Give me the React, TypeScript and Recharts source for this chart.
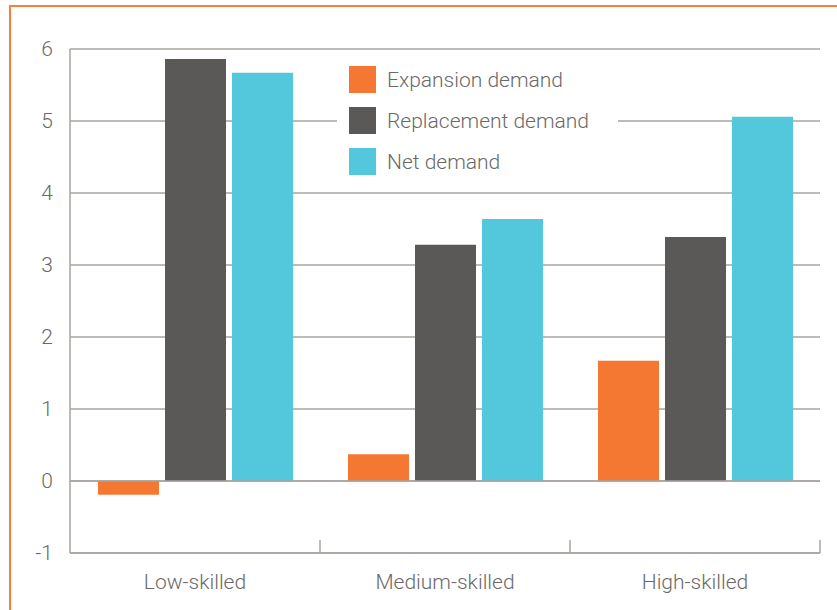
import React from 'react';
import {
  BarChart,
  Bar,
  XAxis,
  YAxis,
  CartesianGrid,
  ReferenceLine
} from 'recharts';

const categories = ['Low-skilled', 'Medium-skilled', 'High-skilled'];
const expansionDemand = [-0.19, 0.37, 1.67];
const replacementDemand = [5.86, 3.28, 3.39];
const netDemand = [5.67, 3.64, 5.06];
const yTicks = [-1, 0, 1, 2, 3, 4, 5, 6];

const seriesNames = ['Expansion demand', 'Replacement demand', 'Net demand'];
const seriesColors = ['#f47832', '#5b5957', '#53c8dc'];

const FONT = 'Roboto, "Liberation Sans", sans-serif';
const TEXT = '#6b6967';
const GRID = '#a8a39e';

const data = categories.map((name, i) => ({
  name,
  expansion: expansionDemand[i],
  replacement: replacementDemand[i],
  net: netDemand[i]
}));

const YTick = (props: any) => {
  const { y, payload } = props;
  return (
    <text x={53} y={y} dy={7} textAnchor="end" fill={TEXT} fontSize={21} fontWeight={300} fontFamily={FONT}>
      {payload.value}
    </text>
  );
};

const XTick = (props: any) => {
  const { x, y, payload } = props;
  return (
    <text x={x} y={y} dy={28} textAnchor="middle" fill={TEXT} fontSize={21} fontWeight={300} fontFamily={FONT}>
      {payload.value}
    </text>
  );
};

const LegendBox = () => (
  <div
    style={{
      position: 'absolute',
      left: 337,
      top: 59,
      width: 281,
      background: '#fff',
      padding: '0 0 0 12px',
      boxSizing: 'border-box',
      fontFamily: FONT
    }}
  >
    {seriesNames.map((n, i) => (
      <div key={n} style={{ display: 'flex', alignItems: 'center', height: 41 }}>
        <div style={{ width: 27, height: 27, background: seriesColors[i], marginRight: 11 }} />
        <span style={{ fontSize: 21, fontWeight: 300, color: TEXT }}>{n}</span>
      </div>
    ))}
  </div>
);

const App: React.FC = () => {
  return (
    <div style={{ position: 'absolute', left: 0, top: 0, width: 837, height: 610, background: '#fff', overflow: 'hidden' }}>
      <div
        style={{
          position: 'absolute',
          left: 9,
          top: 5,
          width: 840,
          height: 603,
          borderTop: '2px solid #f5803a',
          borderLeft: '2px solid #f5803a',
          borderBottom: '1px solid #f0eeec'
        }}
      />
      <BarChart
        width={837}
        height={610}
        data={data}
        margin={{ top: 49, right: 17, bottom: 27, left: 10 }}
        barSize={61}
        barGap={6}
        style={{ position: 'absolute', left: 0, top: 0 }}
      >
        <CartesianGrid vertical={false} stroke={GRID} strokeWidth={1.5} />
        <YAxis
          type="number"
          domain={[-1, 6]}
          ticks={yTicks}
          width={60}
          tick={<YTick />}
          tickLine={false}
          axisLine={{ stroke: GRID, strokeWidth: 1.5 }}
          interval={0}
        />
        <XAxis
          dataKey="name"
          height={30}
          tick={<XTick />}
          tickLine={false}
          axisLine={{ stroke: GRID, strokeWidth: 1.5 }}
        />
        <ReferenceLine y={0} stroke={GRID} strokeWidth={1.5} />
        <Bar dataKey="expansion" name={seriesNames[0]} fill={seriesColors[0]} isAnimationActive={false} />
        <Bar dataKey="replacement" name={seriesNames[1]} fill={seriesColors[1]} isAnimationActive={false} />
        <Bar dataKey="net" name={seriesNames[2]} fill={seriesColors[2]} isAnimationActive={false} />
      </BarChart>
      {/* boundary ticks on the category axis */}
      <svg width={837} height={610} style={{ position: 'absolute', left: 0, top: 0, pointerEvents: 'none' }}>
        {[320, 570, 820].map((x) => (
          <line key={x} x1={x} x2={x} y1={540} y2={553} stroke={GRID} strokeWidth={1.5} />
        ))}
      </svg>
      <LegendBox />
    </div>
  );
};

export default App;
